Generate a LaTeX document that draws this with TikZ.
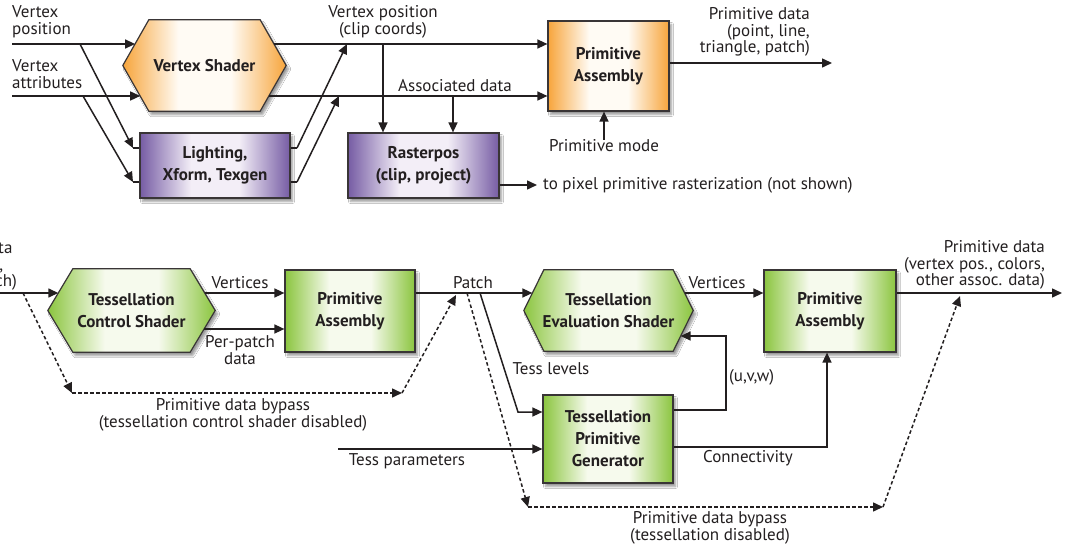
\documentclass[tikz,border=0pt]{standalone}
\usepackage{fontspec}
\setmainfont{PT Sans}
\usetikzlibrary{arrows.meta,calc,shadows.blur}
\definecolor{ink}{HTML}{231F20}
\definecolor{orE}{RGB}{247,165,60}
\definecolor{orM}{RGB}{255,251,244}
\definecolor{puE}{RGB}{118,92,164}
\definecolor{puM}{RGB}{243,238,247}
\definecolor{grE}{RGB}{139,197,63}
\definecolor{grM}{RGB}{246,250,237}
\pgfdeclarehorizontalshading{orsh}{100bp}{color(0bp)=(orE); color(25bp)=(orE); color(42bp)=(orM); color(58bp)=(orM); color(75bp)=(orE); color(100bp)=(orE)}
\pgfdeclarehorizontalshading{push}{100bp}{color(0bp)=(puE); color(25bp)=(puE); color(42bp)=(puM); color(58bp)=(puM); color(75bp)=(puE); color(100bp)=(puE)}
\pgfdeclarehorizontalshading{grsh}{100bp}{color(0bp)=(grE); color(25bp)=(grE); color(42bp)=(grM); color(58bp)=(grM); color(75bp)=(grE); color(100bp)=(grE)}
\pgfdeclarelayer{bg}
\pgfsetlayers{bg,main}
\tikzset{
  line/.style={line width=1.5pt, draw=ink},
  arr/.style={line, -{Triangle[length=10pt,width=9pt]}},
  darr/.style={arr, dash pattern=on 3.5pt off 2.5pt},
  lbl/.style={text=ink, font=\fontsize{17}{16.8}\selectfont, inner sep=0pt, align=center},
  boxtext/.style={text=ink, font=\fontsize{17}{22}\selectfont\bfseries, align=center, inner sep=0pt},
  shad/.style={blur shadow={shadow xshift=2.5pt, shadow yshift=-3.5pt, shadow blur steps=8, shadow opacity=40}},
  box/.style={boxtext, rectangle, draw=ink!90, line width=1.2pt, shad, shade},
  orbox/.style={box, shading=orsh},
  pubox/.style={box, shading=push},
  grbox/.style={box, shading=grsh},
  hexsty/.style={draw=ink!90, line width=1.2pt, shad, shade}
}
\newcommand\drawhex[3]{%
  \path[hexsty, shading=#3] ($(#1.north west)+(#2,0)$) -- ($(#1.north east)+(-#2,0)$) -- (#1.east)
    -- ($(#1.south east)+(-#2,0)$) -- ($(#1.south west)+(#2,0)$) -- (#1.west) -- cycle;}
\begin{document}
\begin{tikzpicture}[x=1pt,y=-1pt]
\useasboundingbox (0,0) rectangle (1066,548);
% ---------- nodes: top ----------
\node[boxtext, minimum width=163pt, minimum height=91pt] (vs) at (204.5,65.5) {Vertex Shader};
\node[pubox, minimum width=150pt, minimum height=65pt] (light) at (215,165.5) {Lighting,\\Xform, Texgen};
\node[pubox, minimum width=151pt, minimum height=65pt] (raster) at (423.5,165.5) {Rasterpos\\(clip, project)};
\node[orbox, minimum width=121pt, minimum height=90pt] (pa1) at (608.5,66) {Primitive\\Assembly};
% ---------- nodes: bottom ----------
\node[boxtext, minimum width=167pt, minimum height=83pt] (tcs) at (131.5,310.5) {Tessellation\\Control Shader};
\node[grbox, minimum width=130pt, minimum height=82pt] (pa2) at (350,311) {Primitive\\Assembly};
\node[boxtext, minimum width=169pt, minimum height=81pt] (tes) at (608.5,310.5) {Tessellation\\Evaluation Shader};
\node[grbox, minimum width=132pt, minimum height=82pt] (pa3) at (830,311) {Primitive\\Assembly};
\node[grbox, minimum width=130pt, minimum height=88pt] (tpg) at (608,439) {Tessellation\\Primitive\\Generator};
\begin{pgfonlayer}{bg}
  \fill[white] (0,0) rectangle (1066,548);
  \drawhex{vs}{26}{orsh}
  \drawhex{tcs}{25}{grsh}
  \drawhex{tes}{20}{grsh}
\end{pgfonlayer}
% ---------- labels: top ----------
\node[lbl, align=left, anchor=west] (lvp) at (12,22) {Vertex\\position};
\node[lbl, align=left, anchor=west] (lva) at (12,74) {Vertex\\attributes};
\node[lbl] (lclip) at (383,22) {Vertex position\\(clip coords)};
\node[lbl] (lassoc) at (455,86) {Associated data};
\node[lbl] (mode) at (604,146) {Primitive mode};
\node[lbl, align=right, anchor=east] (lpd1) at (810,32) {Primitive data\\(point, line,\\triangle, patch)};
\node[lbl, anchor=west] (lras) at (543,185) {to pixel primitive rasterization (not shown)};
% ---------- labels: bottom ----------
\node[lbl] (lpd0) at (-38,266) {Primitive data\\(point, line,\\triangle, patch)};
\node[lbl] (lv1) at (240,283) {Vertices};
\node[lbl] (lpp) at (240,350) {Per-patch\\data};
\node[lbl] (lpatch) at (473,283) {Patch};
\node[lbl] (lv2) at (717,283) {Vertices};
\node[lbl, align=right, anchor=east] (lpd2) at (1045,265) {Primitive data\\(vertex pos., colors,\\other assoc. data)};
\node[lbl] (lby1) at (233,415) {Primitive data bypass\\(tessellation control shader disabled)};
\node[lbl] (ltl) at (551,369) {Tess levels};
\node[lbl, anchor=west] (luvw) at (729,377) {(u,v,w)};
\node[lbl] (ltp) at (407,461) {Tess parameters};
\node[lbl] (lconn) at (748,458) {Connectivity};
\node[lbl] (lby2) at (710,528) {Primitive data bypass\\(tessellation disabled)};
% ---------- connectors: top ----------
\coordinate (in1) at (12,44);
\coordinate (in2) at (12,96);
\draw[arr] (in1) -- ($(in1 -| vs.west)+(12.3,0)$);
\draw[arr] ($(in1 -| vs.east)+(-12.3,0)$) -- (in1 -| pa1.west);
\draw[arr] (in2) -- ($(in2 -| vs.west)+(17.4,0)$);
\draw[arr] ($(in2 -| vs.east)+(-17.4,0)$) -- (in2 -| pa1.west);
\coordinate (s1) at (133,148);
\coordinate (s2) at (133,182);
\draw[arr] ($(in1)+(68,0)$) -- (s1);
\draw[line] (s1) -- (s1 -| light.west);
\draw[arr] ($(in2)+(71,0)$) -- (s2);
\draw[line] (s2) -- (s2 -| light.west);
\coordinate (r1) at (297,148);
\coordinate (r2) at (297,182);
\draw[line] (r1 -| light.east) -- (r1);
\draw[arr] (r1) -- ($(in1)+(335,0)$);
\draw[line] (r2 -| light.east) -- (r2);
\draw[arr] (r2) -- ($(in2)+(327,0)$);
\coordinate (c1) at (383,44);
\coordinate (c2) at (453,96);
\draw[arr] (c1) -- (c1 |- raster.north);
\draw[arr] (c2) -- (c2 |- raster.north);
\coordinate (ro) at (537,185);
\draw[arr] (ro -| raster.east) -- (ro);
\coordinate (po) at (832,63);
\draw[arr] (po -| pa1.east) -- (po);
\draw[arr] (mode.north) -- (mode.north |- pa1.south);
% ---------- connectors: bottom ----------
\coordinate (bin) at (-5,293);
\coordinate (pp) at (0,329);
\draw[arr] (bin) -- ($(bin -| tcs.west)+(10.5,0)$);
\draw[arr] ($(bin -| tcs.east)+(-10.5,0)$) -- (bin -| pa2.west);
\draw[arr] ($(pp -| tcs.east)+(-11.1,0)$) -- (pp -| pa2.west);
\draw[arr] (bin -| pa2.east) -- ($(bin -| tes.west)+(8.6,0)$);
\draw[arr] ($(bin -| tes.east)+(-8.6,0)$) -- (bin -| pa3.west);
\coordinate (bout) at (1062,293);
\draw[arr] (bout -| pa3.east) -- (bout);
\coordinate (tl1) at (480,293);
\coordinate (tl2) at (518,412);
\draw[arr] (tl1) -- (tl2) -- (tl2 -| tpg.west);
\coordinate (uv1) at (726,410);
\coordinate (uv2) at (726,336);
\draw[arr] (uv1 -| tpg.east) -- (uv1) -- (uv2) -- ($(uv2 -| tes.east)+(-12.6,0)$);
\coordinate (tp) at (338,449);
\draw[arr] (tp) -- (tp -| tpg.west);
\coordinate (cn) at (827,447);
\draw[arr] (cn -| tpg.east) -- (cn) -- (cn |- pa3.south);
% bypass 1
\coordinate (a1) at (23,293);
\coordinate (a2) at (72,393);
\coordinate (a3) at (402,393);
\coordinate (a4) at (456,295);
\draw[darr] (a1) -- (a2);
\draw[darr] (a2) -- (a3);
\draw[darr] (a3) -- (a4);
% bypass 2
\coordinate (b1) at (467,293);
\coordinate (b2) at (528,507);
\coordinate (b3) at (883,507);
\coordinate (b4) at (960,296);
\draw[darr] (b1) -- (b2);
\draw[darr] (b2) -- (b3);
\draw[darr] (b3) -- (b4);
\end{tikzpicture}
\end{document}
